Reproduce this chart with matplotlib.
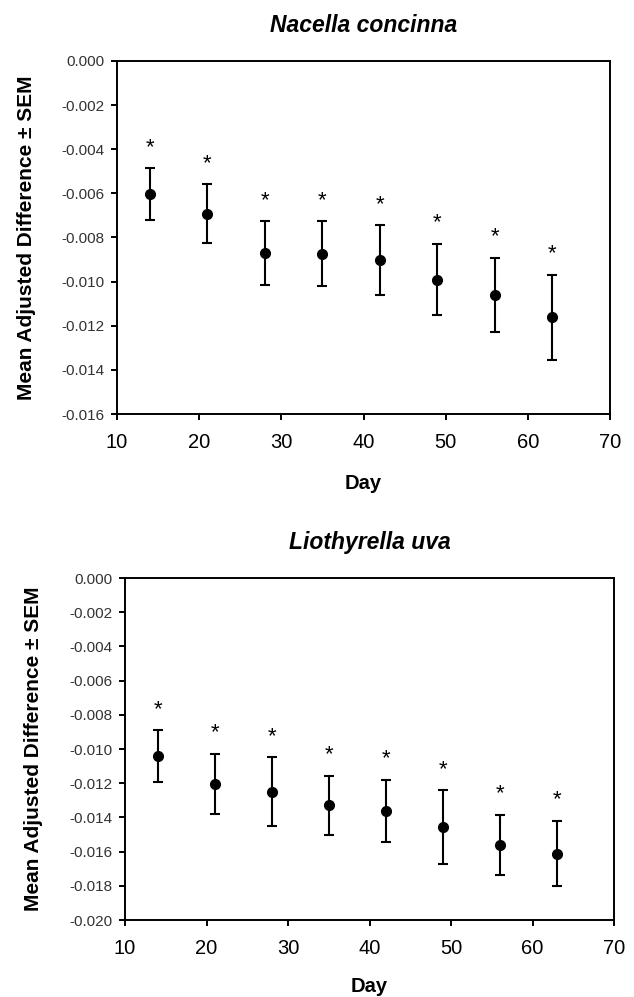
import numpy as np
import matplotlib
matplotlib.use('Agg')
import matplotlib.pyplot as plt

plt.rcParams['font.family'] = ['Liberation Sans', 'DejaVu Sans']

# data
days = [14, 21, 28, 35, 42, 49, 56, 63]

nacella_mean = [-0.00604, -0.00692, -0.00871, -0.00874, -0.00903, -0.00991, -0.01061, -0.01161]
nacella_sem = [0.00117, 0.00134, 0.00145, 0.00148, 0.00159, 0.00162, 0.00169, 0.00192]

lio_mean = [-0.01042, -0.01204, -0.01251, -0.01328, -0.01363, -0.01456, -0.01562, -0.01612]
lio_sem = [0.00153, 0.00177, 0.00202, 0.00173, 0.00183, 0.00215, 0.00177, 0.00192]

nacella_yticks = [0.0, -0.002, -0.004, -0.006, -0.008, -0.010, -0.012, -0.014, -0.016]
lio_yticks = [0.0, -0.002, -0.004, -0.006, -0.008, -0.010, -0.012, -0.014, -0.016, -0.018, -0.020]
xticks = [10, 20, 30, 40, 50, 60, 70]

W, H = 634, 997
fig = plt.figure(figsize=(W / 100, H / 100), dpi=100)


def px_axes(left, top, right, bottom):
    # pixel box -> figure fraction
    return [left / W, 1 - bottom / H, (right - left) / W, (bottom - top) / H]


def panel(box, mean, sem, yticks, title, title_y, day_y, ylab_x):
    ax = fig.add_axes(px_axes(*box))
    ax.errorbar(days, mean, yerr=sem, fmt='o', color='k', ms=7,
                elinewidth=1.5, capsize=3.8, capthick=1.5)
    for d, m, s in zip(days, mean, sem):
        ax.annotate('*', (d, m + s), xytext=(0, 11), textcoords='offset points',
                    ha='center', va='baseline', fontsize=16)
    ax.set_xlim(10, 70)
    ax.set_ylim(yticks[-1], 0)
    ax.set_xticks(xticks)
    ax.set_yticks(yticks)
    ax.set_yticklabels(['%.3f' % t if t != 0 else '0.000' for t in yticks])
    for sp in ax.spines.values():
        sp.set_linewidth(1.4)
    ax.tick_params(axis='y', direction='out', length=4, width=1.4,
                   labelsize=11, pad=5, labelcolor='#333333')
    ax.tick_params(axis='x', direction='out', length=4, width=1.4,
                   labelsize=14.5, pad=10)

    cx = (box[0] + box[2]) / 2
    cy = (box[1] + box[3]) / 2
    fig.text(cx / W, 1 - title_y / H, title, ha='center', va='center',
             fontsize=16.5, fontweight='bold', fontstyle='italic')
    fig.text(cx / W, 1 - day_y / H, 'Day', ha='center', va='center',
             fontsize=14.5, fontweight='bold')
    fig.text(ylab_x / W, 1 - cy / H, 'Mean Adjusted Difference \u00b1 SEM',
             ha='center', va='center', rotation=90, fontsize=15, fontweight='bold')
    return ax


panel((117, 61, 610, 414), nacella_mean, nacella_sem, nacella_yticks,
      'Nacella concinna', 25, 483, 27)
panel((125, 578, 614, 920), lio_mean, lio_sem, lio_yticks,
      'Liothyrella uva', 542, 986, 34)

fig.savefig('out.png', dpi=100)
